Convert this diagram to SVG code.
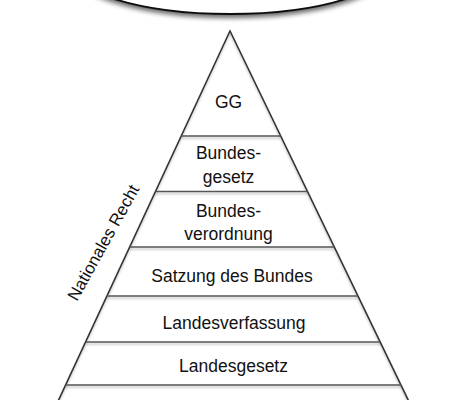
<svg xmlns="http://www.w3.org/2000/svg" width="474" height="400" viewBox="0 0 474 400">
  <defs>
    <filter id="shadow" x="-20%" y="-20%" width="140%" height="160%">
      <feGaussianBlur in="SourceAlpha" stdDeviation="2.5"/>
      <feOffset dx="0" dy="3" result="b"/>
      <feComponentTransfer><feFuncA type="linear" slope="0.6"/></feComponentTransfer>
      <feMerge><feMergeNode/><feMergeNode in="SourceGraphic"/></feMerge>
    </filter>
    <filter id="lshadow" x="-5%" y="-50%" width="110%" height="300%">
      <feGaussianBlur in="SourceAlpha" stdDeviation="1"/>
      <feOffset dx="0" dy="1.5"/>
      <feComponentTransfer><feFuncA type="linear" slope="0.25"/></feComponentTransfer>
      <feMerge><feMergeNode/><feMergeNode in="SourceGraphic"/></feMerge>
    </filter>
  </defs>
  <style>
    text { font-family: "Liberation Sans", Arial, Helvetica, sans-serif; font-size: 17.5px; fill: #111; text-anchor: middle; }
    .edge { fill: none; stroke: #333; stroke-width: 1.6; }
    .sep { stroke: #555; stroke-width: 1.6; }
  </style>
  <rect width="474" height="400" fill="#fff"/>
  <g id="top-ellipse">
    <ellipse cx="230" cy="-36" rx="162" ry="50" fill="#fff" stroke="#111" stroke-width="2" filter="url(#shadow)"/>
  </g>
  <g id="pyramid">
    <path class="edge" d="M54 410 L230 31 L413 410" filter="url(#lshadow)"/>
  </g>
  <g id="connectors" filter="url(#lshadow)">
    <line class="sep" x1="181.3" y1="136" x2="280.7" y2="136"/>
    <line class="sep" x1="155.5" y1="191.5" x2="307.5" y2="191.5"/>
    <line class="sep" x1="129.8" y1="247" x2="334.3" y2="247"/>
    <line class="sep" x1="107" y1="296" x2="358" y2="296"/>
    <line class="sep" x1="85.7" y1="342" x2="380.2" y2="342"/>
    <line class="sep" x1="65.7" y1="385" x2="401" y2="385"/>
  </g>
  <g id="node-gg"><text x="228.5" y="108">GG</text></g>
  <g id="node-bundesgesetz"><text x="228.5" y="159">Bundes-</text><text x="228.5" y="183">gesetz</text></g>
  <g id="node-bundesverordnung"><text x="228.5" y="216.5">Bundes-</text><text x="228.5" y="239.5">verordnung</text></g>
  <g id="node-satzung"><text x="232" y="281.5">Satzung des Bundes</text></g>
  <g id="node-landesverfassung"><text x="234" y="329">Landesverfassung</text></g>
  <g id="node-landesgesetz"><text x="233.5" y="372">Landesgesetz</text></g>
  <g id="label-nationales-recht">
    <text x="77" y="302" style="text-anchor:start;font-size:17px" transform="rotate(-61 77 302)">Nationales Recht</text>
  </g>
</svg>
